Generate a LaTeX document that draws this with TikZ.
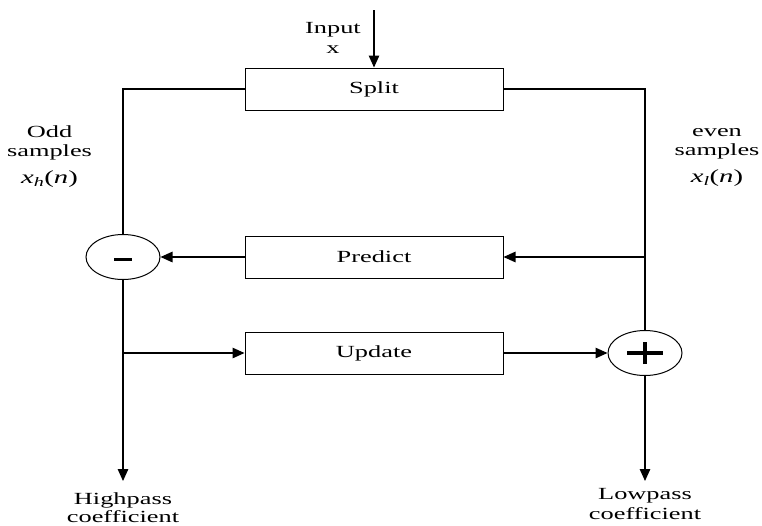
\documentclass[tikz,border=0pt]{standalone}
\usepackage{fontspec}
\setmainfont{Liberation Serif}[FakeStretch=1.55]
\usetikzlibrary{arrows.meta,shapes.geometric}
\begin{document}
\begin{tikzpicture}[x=1pt,y=-1pt,
  font=\fontsize{17}{19.5}\selectfont,
  block/.style={draw,line width=1pt,minimum width=258pt,minimum height=42pt,inner sep=0pt},
  sumnode/.style={draw,ellipse,line width=1pt,minimum width=74pt,minimum height=45pt,inner sep=0pt},
  wire/.style={line width=1.3pt},
  flow/.style={line width=1.3pt,-{Triangle[length=12pt,width=10.5pt]}},
  lbl/.style={align=center,inner sep=0pt}]
\useasboundingbox (0,0) rectangle (762,525);

% blocks
\node[block] (split) at (374,89) {Split};
\node[block] (pred) at (374,257) {Predict};
\node[block] (upd) at (374,353) {Update};

% minus and plus junctions
\node[sumnode] (minus) at (123,257) {};
\node[sumnode] (plus) at (645,353) {};
\fill ([xshift=-9pt,yshift=-1pt]minus.center) rectangle ++(18,3.4);
\draw[line width=3.2pt] ([xshift=-18pt]plus.center) -- ([xshift=18pt]plus.center);
\draw[line width=3.2pt] ([yshift=-11pt]plus.center) -- ([yshift=11pt]plus.center);

% input
\coordinate (in) at (374,10);
\draw[flow] (in) -- (split.north);
\node[lbl] (inlbl) at (333,38) {Input\\x};

% split outputs
\draw[wire] (split.west) -| (minus.north);
\draw[wire] (split.east) -| (plus.north);

% predict path
\coordinate (ptap) at (645,257);
\draw[flow] (ptap) -- (pred.east);
\draw[flow] (pred.west) -- (minus.east);

% update path
\coordinate (utap) at (123,353);
\draw[flow] (utap) -- (upd.west);
\draw[flow] (upd.east) -- (plus.west);

% outputs
\coordinate (hout) at (123,481);
\coordinate (lout) at (645,481);
\draw[flow] (minus.south) -- (hout);
\draw[flow] (plus.south) -- (lout);

% labels (anchored on the baseline of their last line)
\node[lbl,anchor=base] (oddlbl) at (49.5,183) {Odd\\samples\\[7pt]{\fontsize{18.5}{20}\selectfont\textit{x}\textsubscript{\textit{h}}(\textit{n})}};
\node[lbl,anchor=base] (evenlbl) at (717,182) {even\\samples\\[7pt]{\fontsize{18.5}{20}\selectfont\textit{x}\textsubscript{\textit{l}}(\textit{n})}};
\node[lbl,anchor=base] (hilbl) at (123,522) {Highpass\\[-1.5pt]coefficient};
\node[lbl,anchor=base] (lolbl) at (645,519) {Lowpass\\coefficient};
\end{tikzpicture}
\end{document}
